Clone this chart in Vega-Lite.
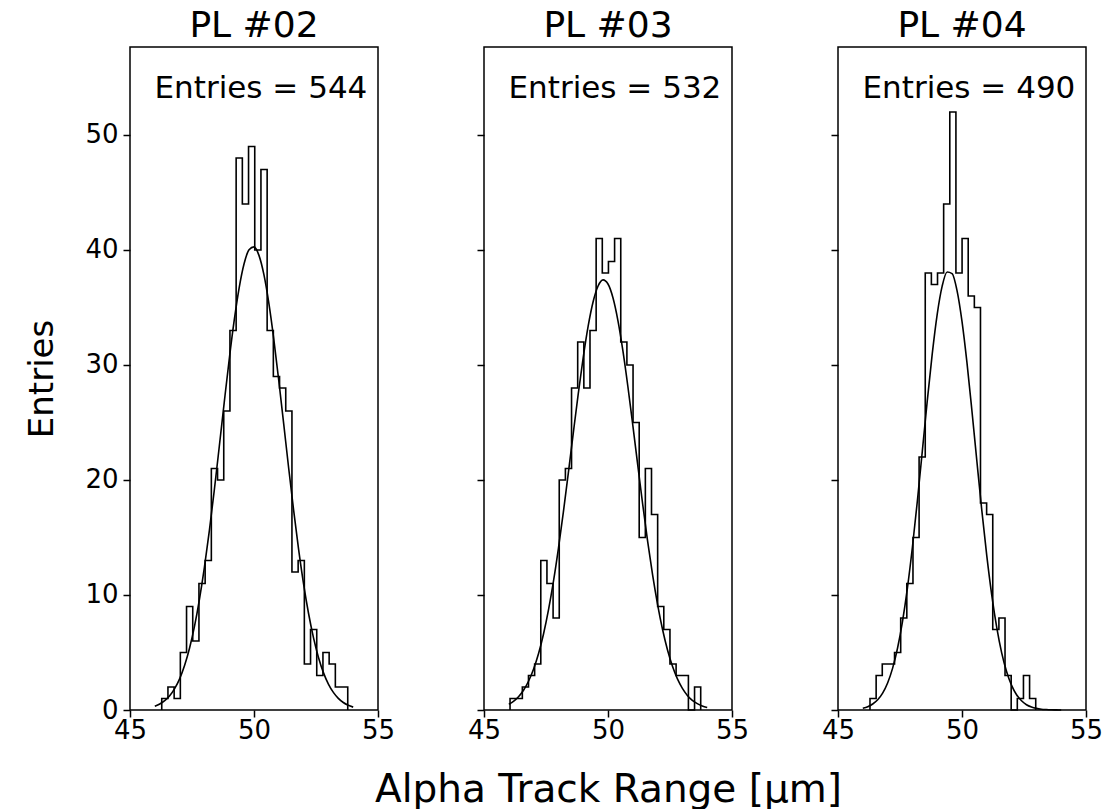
{
  "$schema": "https://vega.github.io/schema/vega-lite/v6.json",
  "background": "white",
  "padding": {"left": 25, "top": 7, "right": 5, "bottom": 0},
  "bounds": "flush",
  "spacing": 106,
  "config": {
    "font": "DejaVu Sans",
    "view": {"stroke": "black", "strokeWidth": 1.5},
    "axis": {"domain": false, "grid": false, "ticks": true, "tickColor": "black", "tickWidth": 1.5, "tickSize": 7, "labelColor": "black", "labelFontSize": 26, "labelFont": "DejaVu Sans", "labelFlush": false, "labelPadding": 4, "titleColor": "black", "titleFontWeight": "normal", "titleFont": "DejaVu Sans"},
    "axisX": {"labelPadding": 0},
    "title": {"fontSize": 36, "fontWeight": "normal", "color": "black", "font": "DejaVu Sans", "offset": 2, "baseline": "alphabetic"}
  },
  "datasets": {
    "hist": [
      {"panel": "PL #02", "i": 0, "x": 46.28, "count": 0},
      {"panel": "PL #02", "i": 1, "x": 46.28, "count": 1},
      {"panel": "PL #02", "i": 2, "x": 46.53, "count": 2},
      {"panel": "PL #02", "i": 3, "x": 46.78, "count": 1},
      {"panel": "PL #02", "i": 4, "x": 47.03, "count": 5},
      {"panel": "PL #02", "i": 5, "x": 47.28, "count": 9},
      {"panel": "PL #02", "i": 6, "x": 47.53, "count": 6},
      {"panel": "PL #02", "i": 7, "x": 47.78, "count": 11},
      {"panel": "PL #02", "i": 8, "x": 48.03, "count": 13},
      {"panel": "PL #02", "i": 9, "x": 48.28, "count": 21},
      {"panel": "PL #02", "i": 10, "x": 48.53, "count": 20},
      {"panel": "PL #02", "i": 11, "x": 48.78, "count": 26},
      {"panel": "PL #02", "i": 12, "x": 49.03, "count": 33},
      {"panel": "PL #02", "i": 13, "x": 49.28, "count": 48},
      {"panel": "PL #02", "i": 14, "x": 49.53, "count": 44},
      {"panel": "PL #02", "i": 15, "x": 49.78, "count": 49},
      {"panel": "PL #02", "i": 16, "x": 50.03, "count": 40},
      {"panel": "PL #02", "i": 17, "x": 50.28, "count": 47},
      {"panel": "PL #02", "i": 18, "x": 50.53, "count": 33},
      {"panel": "PL #02", "i": 19, "x": 50.78, "count": 29},
      {"panel": "PL #02", "i": 20, "x": 51.03, "count": 28},
      {"panel": "PL #02", "i": 21, "x": 51.28, "count": 26},
      {"panel": "PL #02", "i": 22, "x": 51.53, "count": 12},
      {"panel": "PL #02", "i": 23, "x": 51.78, "count": 13},
      {"panel": "PL #02", "i": 24, "x": 52.03, "count": 4},
      {"panel": "PL #02", "i": 25, "x": 52.28, "count": 7},
      {"panel": "PL #02", "i": 26, "x": 52.53, "count": 3},
      {"panel": "PL #02", "i": 27, "x": 52.78, "count": 5},
      {"panel": "PL #02", "i": 28, "x": 53.03, "count": 4},
      {"panel": "PL #02", "i": 29, "x": 53.28, "count": 2},
      {"panel": "PL #02", "i": 30, "x": 53.53, "count": 2},
      {"panel": "PL #02", "i": 31, "x": 53.78, "count": 0},
      {"panel": "PL #03", "i": 0, "x": 46.05, "count": 0},
      {"panel": "PL #03", "i": 1, "x": 46.05, "count": 1},
      {"panel": "PL #03", "i": 2, "x": 46.298, "count": 1},
      {"panel": "PL #03", "i": 3, "x": 46.546, "count": 2},
      {"panel": "PL #03", "i": 4, "x": 46.794, "count": 3},
      {"panel": "PL #03", "i": 5, "x": 47.042, "count": 4},
      {"panel": "PL #03", "i": 6, "x": 47.29, "count": 13},
      {"panel": "PL #03", "i": 7, "x": 47.538, "count": 11},
      {"panel": "PL #03", "i": 8, "x": 47.786, "count": 8},
      {"panel": "PL #03", "i": 9, "x": 48.034, "count": 20},
      {"panel": "PL #03", "i": 10, "x": 48.282, "count": 21},
      {"panel": "PL #03", "i": 11, "x": 48.53, "count": 28},
      {"panel": "PL #03", "i": 12, "x": 48.778, "count": 32},
      {"panel": "PL #03", "i": 13, "x": 49.026, "count": 28},
      {"panel": "PL #03", "i": 14, "x": 49.274, "count": 33},
      {"panel": "PL #03", "i": 15, "x": 49.522, "count": 41},
      {"panel": "PL #03", "i": 16, "x": 49.77, "count": 38},
      {"panel": "PL #03", "i": 17, "x": 50.018, "count": 39},
      {"panel": "PL #03", "i": 18, "x": 50.266, "count": 41},
      {"panel": "PL #03", "i": 19, "x": 50.514, "count": 32},
      {"panel": "PL #03", "i": 20, "x": 50.762, "count": 30},
      {"panel": "PL #03", "i": 21, "x": 51.01, "count": 25},
      {"panel": "PL #03", "i": 22, "x": 51.258, "count": 15},
      {"panel": "PL #03", "i": 23, "x": 51.506, "count": 21},
      {"panel": "PL #03", "i": 24, "x": 51.754, "count": 17},
      {"panel": "PL #03", "i": 25, "x": 52.002, "count": 9},
      {"panel": "PL #03", "i": 26, "x": 52.25, "count": 7},
      {"panel": "PL #03", "i": 27, "x": 52.498, "count": 4},
      {"panel": "PL #03", "i": 28, "x": 52.746, "count": 3},
      {"panel": "PL #03", "i": 29, "x": 52.994, "count": 3},
      {"panel": "PL #03", "i": 30, "x": 53.242, "count": 0},
      {"panel": "PL #03", "i": 31, "x": 53.49, "count": 2},
      {"panel": "PL #03", "i": 32, "x": 53.738, "count": 0},
      {"panel": "PL #04", "i": 0, "x": 46.29, "count": 0},
      {"panel": "PL #04", "i": 1, "x": 46.29, "count": 1},
      {"panel": "PL #04", "i": 2, "x": 46.538, "count": 3},
      {"panel": "PL #04", "i": 3, "x": 46.785, "count": 4},
      {"panel": "PL #04", "i": 4, "x": 47.033, "count": 4},
      {"panel": "PL #04", "i": 5, "x": 47.28, "count": 5},
      {"panel": "PL #04", "i": 6, "x": 47.528, "count": 8},
      {"panel": "PL #04", "i": 7, "x": 47.775, "count": 11},
      {"panel": "PL #04", "i": 8, "x": 48.023, "count": 15},
      {"panel": "PL #04", "i": 9, "x": 48.27, "count": 22},
      {"panel": "PL #04", "i": 10, "x": 48.518, "count": 38},
      {"panel": "PL #04", "i": 11, "x": 48.765, "count": 37},
      {"panel": "PL #04", "i": 12, "x": 49.013, "count": 38},
      {"panel": "PL #04", "i": 13, "x": 49.26, "count": 44},
      {"panel": "PL #04", "i": 14, "x": 49.508, "count": 52},
      {"panel": "PL #04", "i": 15, "x": 49.755, "count": 38},
      {"panel": "PL #04", "i": 16, "x": 50.003, "count": 41},
      {"panel": "PL #04", "i": 17, "x": 50.25, "count": 36},
      {"panel": "PL #04", "i": 18, "x": 50.498, "count": 35},
      {"panel": "PL #04", "i": 19, "x": 50.745, "count": 18},
      {"panel": "PL #04", "i": 20, "x": 50.993, "count": 17},
      {"panel": "PL #04", "i": 21, "x": 51.24, "count": 7},
      {"panel": "PL #04", "i": 22, "x": 51.488, "count": 8},
      {"panel": "PL #04", "i": 23, "x": 51.735, "count": 3},
      {"panel": "PL #04", "i": 24, "x": 51.983, "count": 0},
      {"panel": "PL #04", "i": 25, "x": 52.23, "count": 1},
      {"panel": "PL #04", "i": 26, "x": 52.478, "count": 3},
      {"panel": "PL #04", "i": 27, "x": 52.725, "count": 1},
      {"panel": "PL #04", "i": 28, "x": 52.973, "count": 0}
    ],
    "fit": [
      {"panel": "PL #02", "x": 46.0, "y": 0.32}, {"panel": "PL #02", "x": 46.2, "y": 0.52}, {"panel": "PL #02", "x": 46.4, "y": 0.81}, {"panel": "PL #02", "x": 46.6, "y": 1.24}, {"panel": "PL #02", "x": 46.8, "y": 1.86}, {"panel": "PL #02", "x": 47.0, "y": 2.71}, {"panel": "PL #02", "x": 47.2, "y": 3.87}, {"panel": "PL #02", "x": 47.4, "y": 5.37}, {"panel": "PL #02", "x": 47.6, "y": 7.27}, {"panel": "PL #02", "x": 47.8, "y": 9.62}, {"panel": "PL #02", "x": 48.0, "y": 12.40}, {"panel": "PL #02", "x": 48.2, "y": 15.60}, {"panel": "PL #02", "x": 48.4, "y": 19.13}, {"panel": "PL #02", "x": 48.6, "y": 22.91}, {"panel": "PL #02", "x": 48.8, "y": 26.75}, {"panel": "PL #02", "x": 49.0, "y": 30.47}, {"panel": "PL #02", "x": 49.2, "y": 33.85}, {"panel": "PL #02", "x": 49.4, "y": 36.69}, {"panel": "PL #02", "x": 49.6, "y": 38.80}, {"panel": "PL #02", "x": 49.8, "y": 40.02}, {"panel": "PL #02", "x": 50.0, "y": 40.27}, {"panel": "PL #02", "x": 50.2, "y": 39.53}, {"panel": "PL #02", "x": 50.4, "y": 37.85}, {"panel": "PL #02", "x": 50.6, "y": 35.35}, {"panel": "PL #02", "x": 50.8, "y": 32.21}, {"panel": "PL #02", "x": 51.0, "y": 28.63}, {"panel": "PL #02", "x": 51.2, "y": 24.83}, {"panel": "PL #02", "x": 51.4, "y": 21.00}, {"panel": "PL #02", "x": 51.6, "y": 17.33}, {"panel": "PL #02", "x": 51.8, "y": 13.95}, {"panel": "PL #02", "x": 52.0, "y": 10.95}, {"panel": "PL #02", "x": 52.2, "y": 8.39}, {"panel": "PL #02", "x": 52.4, "y": 6.27}, {"panel": "PL #02", "x": 52.6, "y": 4.57}, {"panel": "PL #02", "x": 52.8, "y": 3.25}, {"panel": "PL #02", "x": 53.0, "y": 2.25}, {"panel": "PL #02", "x": 53.2, "y": 1.53}, {"panel": "PL #02", "x": 53.4, "y": 1.01}, {"panel": "PL #02", "x": 53.6, "y": 0.65}, {"panel": "PL #02", "x": 53.8, "y": 0.41}, {"panel": "PL #02", "x": 54.0, "y": 0.25},
      {"panel": "PL #03", "x": 46.0, "y": 0.50}, {"panel": "PL #03", "x": 46.2, "y": 0.77}, {"panel": "PL #03", "x": 46.4, "y": 1.18}, {"panel": "PL #03", "x": 46.6, "y": 1.74}, {"panel": "PL #03", "x": 46.8, "y": 2.52}, {"panel": "PL #03", "x": 47.0, "y": 3.56}, {"panel": "PL #03", "x": 47.2, "y": 4.91}, {"panel": "PL #03", "x": 47.4, "y": 6.61}, {"panel": "PL #03", "x": 47.6, "y": 8.70}, {"panel": "PL #03", "x": 47.8, "y": 11.18}, {"panel": "PL #03", "x": 48.0, "y": 14.04}, {"panel": "PL #03", "x": 48.2, "y": 17.20}, {"panel": "PL #03", "x": 48.4, "y": 20.60}, {"panel": "PL #03", "x": 48.6, "y": 24.08}, {"panel": "PL #03", "x": 48.8, "y": 27.49}, {"panel": "PL #03", "x": 49.0, "y": 30.65}, {"panel": "PL #03", "x": 49.2, "y": 33.38}, {"panel": "PL #03", "x": 49.4, "y": 35.50}, {"panel": "PL #03", "x": 49.6, "y": 36.87}, {"panel": "PL #03", "x": 49.8, "y": 37.40}, {"panel": "PL #03", "x": 50.0, "y": 37.04}, {"panel": "PL #03", "x": 50.2, "y": 35.84}, {"panel": "PL #03", "x": 50.4, "y": 33.86}, {"panel": "PL #03", "x": 50.6, "y": 31.24}, {"panel": "PL #03", "x": 50.8, "y": 28.15}, {"panel": "PL #03", "x": 51.0, "y": 24.77}, {"panel": "PL #03", "x": 51.2, "y": 21.29}, {"panel": "PL #03", "x": 51.4, "y": 17.87}, {"panel": "PL #03", "x": 51.6, "y": 14.65}, {"panel": "PL #03", "x": 51.8, "y": 11.72}, {"panel": "PL #03", "x": 52.0, "y": 9.17}, {"panel": "PL #03", "x": 52.2, "y": 7.00}, {"panel": "PL #03", "x": 52.4, "y": 5.22}, {"panel": "PL #03", "x": 52.6, "y": 3.80}, {"panel": "PL #03", "x": 52.8, "y": 2.70}, {"panel": "PL #03", "x": 53.0, "y": 1.88}, {"panel": "PL #03", "x": 53.2, "y": 1.27}, {"panel": "PL #03", "x": 53.4, "y": 0.84}, {"panel": "PL #03", "x": 53.6, "y": 0.55}, {"panel": "PL #03", "x": 53.8, "y": 0.34}, {"panel": "PL #03", "x": 54.0, "y": 0.21},
      {"panel": "PL #04", "x": 46.0, "y": 0.16}, {"panel": "PL #04", "x": 46.2, "y": 0.29}, {"panel": "PL #04", "x": 46.4, "y": 0.52}, {"panel": "PL #04", "x": 46.6, "y": 0.89}, {"panel": "PL #04", "x": 46.8, "y": 1.47}, {"panel": "PL #04", "x": 47.0, "y": 2.35}, {"panel": "PL #04", "x": 47.2, "y": 3.62}, {"panel": "PL #04", "x": 47.4, "y": 5.37}, {"panel": "PL #04", "x": 47.6, "y": 7.69}, {"panel": "PL #04", "x": 47.8, "y": 10.62}, {"panel": "PL #04", "x": 48.0, "y": 14.15}, {"panel": "PL #04", "x": 48.2, "y": 18.17}, {"panel": "PL #04", "x": 48.4, "y": 22.51}, {"panel": "PL #04", "x": 48.6, "y": 26.89}, {"panel": "PL #04", "x": 48.8, "y": 30.97}, {"panel": "PL #04", "x": 49.0, "y": 34.41}, {"panel": "PL #04", "x": 49.2, "y": 36.86}, {"panel": "PL #04", "x": 49.4, "y": 38.09}, {"panel": "PL #04", "x": 49.6, "y": 37.95}, {"panel": "PL #04", "x": 49.8, "y": 36.47}, {"panel": "PL #04", "x": 50.0, "y": 33.79}, {"panel": "PL #04", "x": 50.2, "y": 30.20}, {"panel": "PL #04", "x": 50.4, "y": 26.02}, {"panel": "PL #04", "x": 50.6, "y": 21.63}, {"panel": "PL #04", "x": 50.8, "y": 17.33}, {"panel": "PL #04", "x": 51.0, "y": 13.40}, {"panel": "PL #04", "x": 51.2, "y": 9.99}, {"panel": "PL #04", "x": 51.4, "y": 7.18}, {"panel": "PL #04", "x": 51.6, "y": 4.97}, {"panel": "PL #04", "x": 51.8, "y": 3.33}, {"panel": "PL #04", "x": 52.0, "y": 2.14}, {"panel": "PL #04", "x": 52.2, "y": 1.33}, {"panel": "PL #04", "x": 52.4, "y": 0.80}, {"panel": "PL #04", "x": 52.6, "y": 0.46}, {"panel": "PL #04", "x": 52.8, "y": 0.26}, {"panel": "PL #04", "x": 53.0, "y": 0.14}, {"panel": "PL #04", "x": 53.2, "y": 0.07}, {"panel": "PL #04", "x": 53.4, "y": 0.04}, {"panel": "PL #04", "x": 53.6, "y": 0.02}, {"panel": "PL #04", "x": 53.8, "y": 0.01}, {"panel": "PL #04", "x": 54.0, "y": 0.0}
    ],
    "labels": [
      {"panel": "PL #02", "label": "Entries = 544"},
      {"panel": "PL #03", "label": "Entries = 532"},
      {"panel": "PL #04", "label": "Entries = 490"}
    ]
  },
  "hconcat": [
    {
      "width": 248, "height": 663,
      "title": {"text": "PL #02"},
      "layer": [
        {
          "data": {"name": "hist"},
          "transform": [{"filter": "datum.panel == 'PL #02'"}],
          "mark": {"type": "line", "interpolate": "step-after", "color": "black", "strokeWidth": 1.6},
          "encoding": {
            "x": {"field": "x", "type": "quantitative", "scale": {"domain": [45, 55], "nice": false, "zero": false}, "axis": {"values": [45, 50, 55], "title": null}},
            "y": {"field": "count", "type": "quantitative", "scale": {"domain": [0, 57.65], "nice": false}, "axis": {"values": [0, 10, 20, 30, 40, 50], "title": "Entries", "titleFontSize": 34, "titlePadding": 25, "labelPadding": 5}},
            "order": {"field": "i", "type": "quantitative"}
          }
        },
        {
          "data": {"name": "fit"},
          "transform": [{"filter": "datum.panel == 'PL #02'"}],
          "mark": {"type": "line", "interpolate": "monotone", "color": "black", "strokeWidth": 1.6},
          "encoding": {"x": {"field": "x", "type": "quantitative"}, "y": {"field": "y", "type": "quantitative"}}
        },
        {
          "data": {"name": "labels"},
          "transform": [{"filter": "datum.panel == 'PL #02'"}],
          "mark": {"type": "text", "align": "right", "baseline": "middle", "fontSize": 31, "color": "black", "font": "DejaVu Sans"},
          "encoding": {"x": {"datum": 54.57}, "y": {"datum": 54.0}, "text": {"field": "label"}}
        }
      ]
    },
    {
      "width": 248, "height": 663,
      "title": {"text": "PL #03"},
      "layer": [
        {
          "data": {"name": "hist"},
          "transform": [{"filter": "datum.panel == 'PL #03'"}],
          "mark": {"type": "line", "interpolate": "step-after", "color": "black", "strokeWidth": 1.6},
          "encoding": {
            "x": {"field": "x", "type": "quantitative", "scale": {"domain": [45, 55], "nice": false, "zero": false}, "axis": {"values": [45, 50, 55], "title": "Alpha Track Range [μm]", "titleFontSize": 39, "titlePadding": 27}},
            "y": {"field": "count", "type": "quantitative", "scale": {"domain": [0, 57.65], "nice": false}, "axis": {"values": [0, 10, 20, 30, 40, 50], "title": null, "labels": false}},
            "order": {"field": "i", "type": "quantitative"}
          }
        },
        {
          "data": {"name": "fit"},
          "transform": [{"filter": "datum.panel == 'PL #03'"}],
          "mark": {"type": "line", "interpolate": "monotone", "color": "black", "strokeWidth": 1.6},
          "encoding": {"x": {"field": "x", "type": "quantitative"}, "y": {"field": "y", "type": "quantitative"}}
        },
        {
          "data": {"name": "labels"},
          "transform": [{"filter": "datum.panel == 'PL #03'"}],
          "mark": {"type": "text", "align": "right", "baseline": "middle", "fontSize": 31, "color": "black", "font": "DejaVu Sans"},
          "encoding": {"x": {"datum": 54.57}, "y": {"datum": 54.0}, "text": {"field": "label"}}
        }
      ]
    },
    {
      "width": 248, "height": 663,
      "title": {"text": "PL #04"},
      "layer": [
        {
          "data": {"name": "hist"},
          "transform": [{"filter": "datum.panel == 'PL #04'"}],
          "mark": {"type": "line", "interpolate": "step-after", "color": "black", "strokeWidth": 1.6},
          "encoding": {
            "x": {"field": "x", "type": "quantitative", "scale": {"domain": [45, 55], "nice": false, "zero": false}, "axis": {"values": [45, 50, 55], "title": null}},
            "y": {"field": "count", "type": "quantitative", "scale": {"domain": [0, 57.65], "nice": false}, "axis": {"values": [0, 10, 20, 30, 40, 50], "title": null, "labels": false}},
            "order": {"field": "i", "type": "quantitative"}
          }
        },
        {
          "data": {"name": "fit"},
          "transform": [{"filter": "datum.panel == 'PL #04'"}],
          "mark": {"type": "line", "interpolate": "monotone", "color": "black", "strokeWidth": 1.6},
          "encoding": {"x": {"field": "x", "type": "quantitative"}, "y": {"field": "y", "type": "quantitative"}}
        },
        {
          "data": {"name": "labels"},
          "transform": [{"filter": "datum.panel == 'PL #04'"}],
          "mark": {"type": "text", "align": "right", "baseline": "middle", "fontSize": 31, "color": "black", "font": "DejaVu Sans"},
          "encoding": {"x": {"datum": 54.57}, "y": {"datum": 54.0}, "text": {"field": "label"}}
        }
      ]
    }
  ]
}
